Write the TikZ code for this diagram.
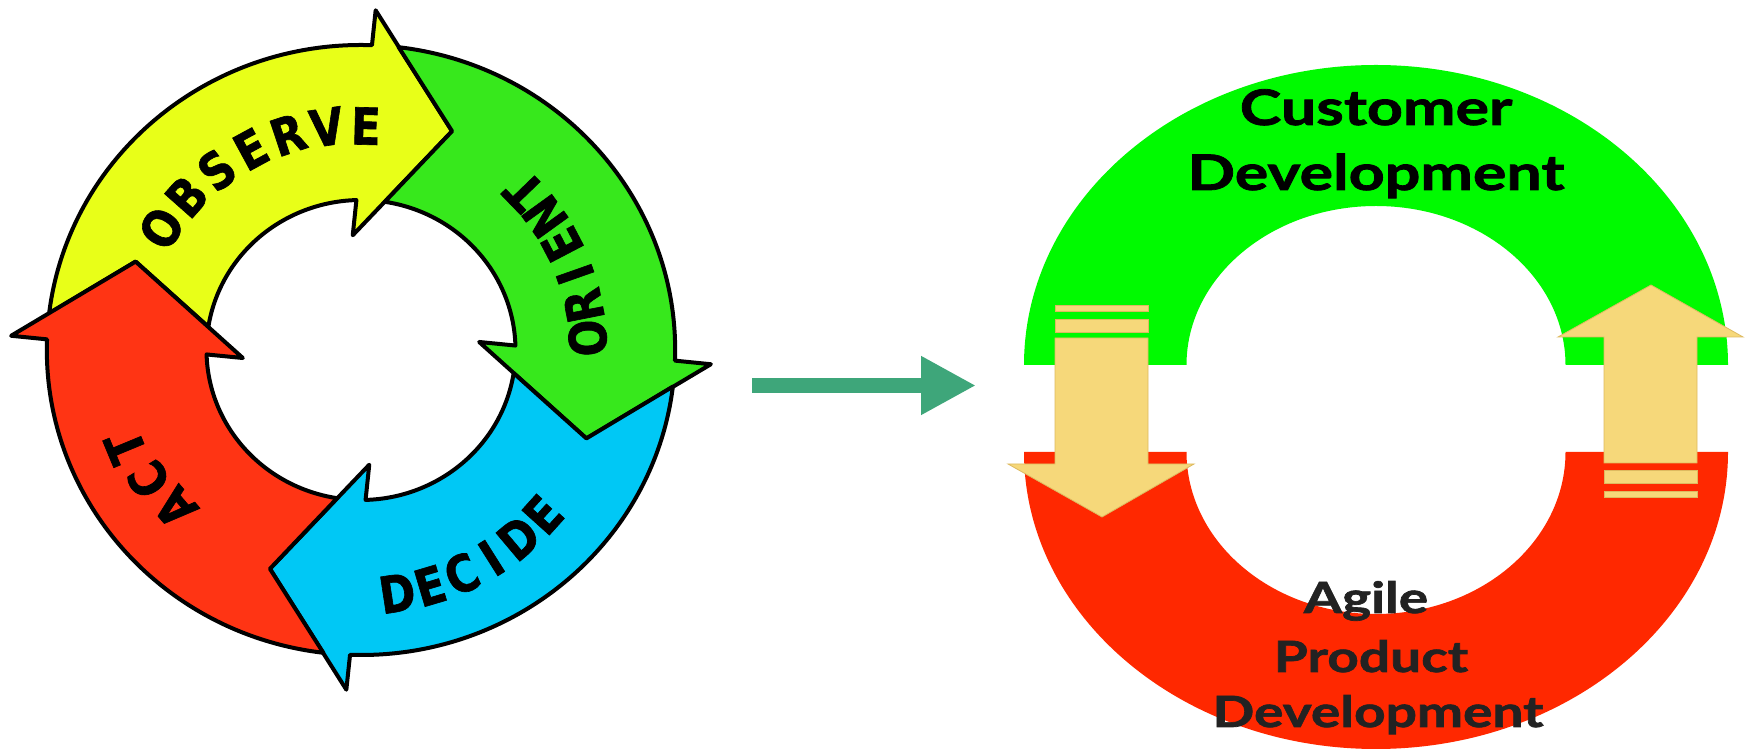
\documentclass[tikz,border=0pt]{standalone}
\usepackage{fontspec}
\usetikzlibrary{arrows.meta}
\newfontfamily\oodafont{DejaVu Sans}[FakeStretch=0.85, BoldFeatures={FakeBold=1.2}]
\newfontfamily\labelfont{Lato}[FakeStretch=1.28, BoldFeatures={FakeBold=1.6}]

\definecolor{oodayellow}{RGB}{232,255,24}
\definecolor{oodagreen}{RGB}{55,232,28}
\definecolor{oodablue}{RGB}{0,200,245}
\definecolor{oodared}{RGB}{255,52,20}
\definecolor{ringgreen}{RGB}{0,250,0}
\definecolor{ringred}{RGB}{255,40,0}
\definecolor{gold}{RGB}{246,216,122}
\definecolor{goldedge}{RGB}{222,186,96}
\definecolor{linkteal}{RGB}{62,166,122}
\definecolor{darktext}{RGB}{34,34,34}

\begin{document}
\begin{tikzpicture}[x=1pt,y=1pt,
  oodaedge/.style={draw=black, line width=4pt, line join=round},
  oodaletter/.style={font=\oodafont\bfseries\fontsize{51}{54}\selectfont, inner sep=0pt},
  ringtext/.style={font=\labelfont\bfseries\fontsize{49}{55}\selectfont, anchor=base, inner sep=0pt},
  agiletext/.style={ringtext, text=darktext, font=\labelfont\bfseries\fontsize{43}{50}\selectfont},
  goldarrow/.style={fill=gold, draw=goldedge, line width=0.8pt, line join=miter}]
\useasboundingbox (0,0) rectangle (1746,749);
\fill[white] (0,0) rectangle (1746,749);

% ---- OODA loop: four notched curved arrows around one centre ----
\foreach \rot/\col in {0/oodayellow, -90/oodagreen, -180/oodablue, 90/oodared}{
  \begin{scope}[shift={(361,399)}, xscale=1.03, rotate=\rot]
    \filldraw[oodaedge, fill=\col]
      (173.11:305) arc[start angle=173.11, end angle=88, radius=305pt]
      -- (87.6:340) -- (68:236) -- (94:115) -- (91.7:150)
      arc[start angle=91.7, end angle=171.12, radius=150pt]
      -- (158:236) -- cycle;
  \end{scope}
}

% ---- letters set along the ring ----
\begin{scope}[shift={(360,399)}]
  \foreach \ch [count=\i from 0] in {O,B,S,E,R,V,E}{
    \pgfmathsetmacro\ang{148.5-\i*10}
    \pgfmathsetmacro\rad{233-\i*1.5}
    \node[oodaletter, rotate=\ang-90] (obs\i) at (\ang:\rad) {\ch};
  }
  \foreach \ch [count=\i from 0] in {O,R,I,E,N,T}{
    \pgfmathsetmacro\ang{3+\i*8.2}
    \node[oodaletter, rotate=\ang+90] (ori\i) at (\ang:228) {\ch};
  }
  \foreach \ch [count=\i from 0] in {D,E,C,I,D,E}{
    \pgfmathsetmacro\ang{-81.3+\i*7.86}
    \node[oodaletter, rotate=\ang+90] (dec\i) at (\ang:246) {\ch};
  }
  \foreach \ch/\ang/\rad [count=\i from 0] in {A/220.5/243, C/211.5/248, T/202.5/254}{
    \node[oodaletter, rotate=\ang-90] (act\i) at (\ang:\rad) {\ch};
  }
\end{scope}

% ---- link arrow between the two loops ----
\coordinate (linkfrom) at (752,363.5);
\coordinate (linkto) at (976,363.5);
\draw[linkteal, line width=15pt, -{Triangle[length=55pt,width=55pt]}] (linkfrom) -- (linkto);

% ---- two half rings ----
\fill[ringgreen] (1024,384) arc[start angle=180, end angle=0, x radius=352pt, y radius=300pt]
  -- (1565.5,384) arc[start angle=0, end angle=180, x radius=189.5pt, y radius=159pt] -- cycle;
\fill[ringred] (1024,297) arc[start angle=180, end angle=360, x radius=352pt, y radius=297pt]
  -- (1565.5,297) arc[start angle=360, end angle=180, x radius=189.5pt, y radius=162pt] -- cycle;

% ---- hand-over arrows ----
\filldraw[goldarrow] (1055,411) -- (1148,411) -- (1148,285) -- (1194,285) -- (1102,232)
  -- (1008,285) -- (1055,285) -- cycle;
\filldraw[goldarrow] (1055,438) rectangle (1148,444);
\filldraw[goldarrow] (1055,417) rectangle (1148,430);

\filldraw[goldarrow] (1604,286) -- (1697,286) -- (1697,412) -- (1743,412) -- (1651,464)
  -- (1558,412) -- (1604,412) -- cycle;
\filldraw[goldarrow] (1604,266) rectangle (1697,279);
\filldraw[goldarrow] (1604,252) rectangle (1697,258);

% ---- ring labels ----
\node[ringtext] (cust1) at (1376,624) {Customer};
\node[ringtext] (cust2) at (1376,559) {Development};
\node[agiletext] (agile1) at (1366,136) {Agile};
\node[agiletext] (agile2) at (1371,77) {Product};
\node[agiletext] (agile3) at (1378,22) {Development};
\end{tikzpicture}
\end{document}
